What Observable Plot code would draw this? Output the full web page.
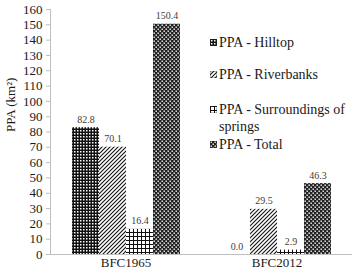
<!DOCTYPE html>
<html>
<head>
<meta charset="utf-8">
<script src="https://cdn.jsdelivr.net/npm/d3@7"></script>
<script src="https://cdn.jsdelivr.net/npm/@observablehq/plot@0.6"></script>
<style>
  html, body { margin: 0; padding: 0; background: #fff; }
  #wrap { position: relative; width: 352px; height: 272px; font-family: "Liberation Serif", "Times New Roman", serif; }
  #defs { position: absolute; width: 0; height: 0; }
  .legend { position: absolute; left: 210px; top: 0; }
  .row { position: absolute; left: 0; display: flex; align-items: flex-start; font-family: "Liberation Serif", "Times New Roman", serif; font-size: 14px; line-height: 17px; color: #1a1a1a; white-space: nowrap; }
  .row .sw { width: 7px; height: 7px; margin-top: 5px; margin-right: 2px; flex: none; }
  .row .lab { width: 130px; white-space: normal; }
</style>
</head>
<body>
<div id="wrap">
  <svg id="defs" aria-hidden="true">
    <defs>
      <pattern id="p-hill" width="3" height="3" patternUnits="userSpaceOnUse">
        <rect width="3" height="3" fill="#111"/>
        <rect x="1" y="1" width="1.5" height="1.5" fill="#fff"/>
      </pattern>
      <pattern id="p-river" width="4" height="4" patternUnits="userSpaceOnUse">
        <rect width="4" height="4" fill="#fff"/>
        <path d="M0,4L4,0M-1,1L1,-1M3,5L5,3" stroke="#111" stroke-width="1.1"/>
      </pattern>
      <pattern id="p-spring" width="4" height="4" patternUnits="userSpaceOnUse">
        <rect width="4" height="4" fill="#111"/>
        <rect x="1" y="1" width="3" height="3" fill="#fff"/>
      </pattern>
      <pattern id="p-total" width="4" height="4" patternUnits="userSpaceOnUse">
        <rect width="4" height="4" fill="#222"/>
        <rect x="0.5" y="0.5" width="1.4" height="1.4" fill="#fff"/>
        <rect x="2.5" y="2.5" width="1.4" height="1.4" fill="#fff"/>
      </pattern>
    </defs>
  </svg>
  <div id="chart"></div>
  <div class="legend" id="legend"></div>
</div>
<script>
// Permanent protection areas (PPA) by land-use base map
const groups = ["BFC1965", "BFC2012"];
const series = ["PPA - Hilltop", "PPA - Riverbanks", "PPA - Surroundings of springs", "PPA - Total"];
const patterns = ["p-hill", "p-river", "p-spring", "p-total"];
const bfc1965 = [82.8, 70.1, 16.4, 150.4];
const bfc2012 = [0.0, 29.5, 2.9, 46.3];
const yTicks = [0, 10, 20, 30, 40, 50, 60, 70, 80, 90, 100, 110, 120, 130, 140, 150, 160];
const yTitle = "PPA (km²)";

const rows = [];
[bfc1965, bfc2012].forEach((vals, gi) => {
  vals.forEach((v, si) => rows.push({group: groups[gi], series: series[si], value: v}));
});

const axisGray = "#bfbfbf";
const serif = "'Liberation Serif', 'Times New Roman', serif";

const chart = Plot.plot({
  width: 352,
  height: 272,
  marginLeft: 49,
  marginRight: 0,
  marginTop: 9,
  marginBottom: 18,
  style: {fontFamily: serif, fontSize: "13px", background: "transparent", color: "#1a1a1a"},
  fx: {domain: groups, padding: 0, axis: null},
  x: {domain: series, paddingInner: 0, paddingOuter: 0.79, axis: null},
  y: {domain: [0, 160], axis: null},
  marks: [
    ...series.map((s, i) =>
      Plot.barY(rows.filter(d => d.series === s), {
        fx: "group", x: "series", y: "value",
        fill: `url(#${patterns[i]})`
      })
    ),
    Plot.ruleY([0], {stroke: axisGray}),
    Plot.frame({anchor: "left", facetAnchor: "left", stroke: axisGray}),
    Plot.axisY({
      ticks: yTicks, tickSize: 4, tickPadding: 4, stroke: axisGray, fill: "#1a1a1a",
      fontFamily: serif, fontSize: 13, label: null
    }),
    Plot.text([yTitle], {
      frameAnchor: "left", facetAnchor: "left", rotate: -90, dx: -40,
      fontFamily: serif, fontSize: 13, fill: "#1a1a1a"
    }),
    Plot.axisFx({anchor: "bottom", tickSize: 0, tickPadding: 3, label: null, fontFamily: serif, fontSize: 13, fill: "#1a1a1a"}),
    Plot.text(rows, {
      fx: "group", x: "series", y: "value",
      text: d => d.value.toFixed(1),
      lineAnchor: "bottom", dy: -5, fontFamily: serif, fontSize: 10, fill: "#404040"
    })
  ]
});
document.getElementById("chart").append(chart);

// Legend on the right, inside the plotting area
const legendTops = [34, 66, 101, 136];
const legend = document.getElementById("legend");
series.forEach((s, i) => {
  const row = document.createElement("div");
  row.className = "row";
  row.style.top = legendTops[i] + "px";
  row.innerHTML = `<svg class="sw" width="7" height="7"><rect width="7" height="7" fill="url(#${patterns[i]})" stroke="#333" stroke-width="0.6"/></svg><span class="lab">${s}</span>`;
  legend.append(row);
});
</script>
</body>
</html>
